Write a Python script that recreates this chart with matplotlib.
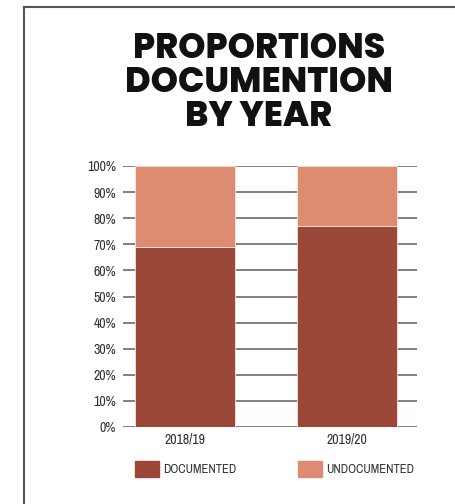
import matplotlib.pyplot as plt
from matplotlib.patches import Patch
from matplotlib.lines import Line2D
import numpy as np

years = ['2018/19', '2019/20']
documented = [69, 77]
undocumented = [31, 23]
y_ticks = [0, 10, 20, 30, 40, 50, 60, 70, 80, 90, 100]

col_doc = '#9c4839'
col_undoc = '#de8c71'
narrow = ['Archivo Narrow', 'DejaVu Sans']

fig = plt.figure(figsize=(4.55, 5.04), dpi=100)
ax = fig.add_axes([123 / 455, 1 - 427 / 504, 294 / 455, 261 / 504])

x = np.arange(len(years))
ax.bar(x, documented, width=0.617, color=col_doc, edgecolor='#f3e6e2', linewidth=0.6, zorder=3)
ax.bar(x, undocumented, width=0.617, bottom=documented, color=col_undoc,
       edgecolor='#f3e6e2', linewidth=0.6, zorder=3)

for t in y_ticks:
    ax.axhline(t, color='#6b5a55', linewidth=1.1, zorder=1)

ax.set_xlim(-0.383, 1.432)
ax.set_ylim(0, 100)
ax.set_yticks(y_ticks)
ax.set_yticklabels([f'{t}%' for t in y_ticks], family=narrow, fontsize=10, color='#333333')
ax.set_xticks(x)
ax.set_xticklabels(years, family=narrow, fontsize=10, color='#333333')
ax.tick_params(length=0, pad=4)
ax.tick_params(axis='y', pad=5)
for s in ax.spines.values():
    s.set_visible(False)

# title
for txt, yy in [('PROPORTIONS', 49), ('DOCUMENTION', 84), ('BY YEAR', 118)]:
    fig.text(259 / 455, 1 - yy / 504, txt, ha='center', va='center', fontsize=25,
             family=['Poppins', 'DejaVu Sans'], weight='heavy', color='#111111')

# legend
for label, col, xx in [('DOCUMENTED', col_doc, 135), ('UNDOCUMENTED', col_undoc, 298)]:
    fig.legend(handles=[Patch(color=col, label=label)], loc='center left',
               bbox_to_anchor=(xx / 455, 1 - 469 / 504), frameon=False,
               borderpad=0, borderaxespad=0, handlelength=1.9, handleheight=1.55,
               handletextpad=0.35, prop={'family': narrow, 'size': 9}, labelcolor='#333333')

# frame around the graphic
fig.add_artist(Line2D([24 / 455, 24 / 455], [0, 1 - 7 / 504], color='#555555', linewidth=1.5))
fig.add_artist(Line2D([24 / 455, 1], [1 - 7 / 504, 1 - 7 / 504], color='#555555', linewidth=1.5))

fig.savefig('out.png', dpi=100)
